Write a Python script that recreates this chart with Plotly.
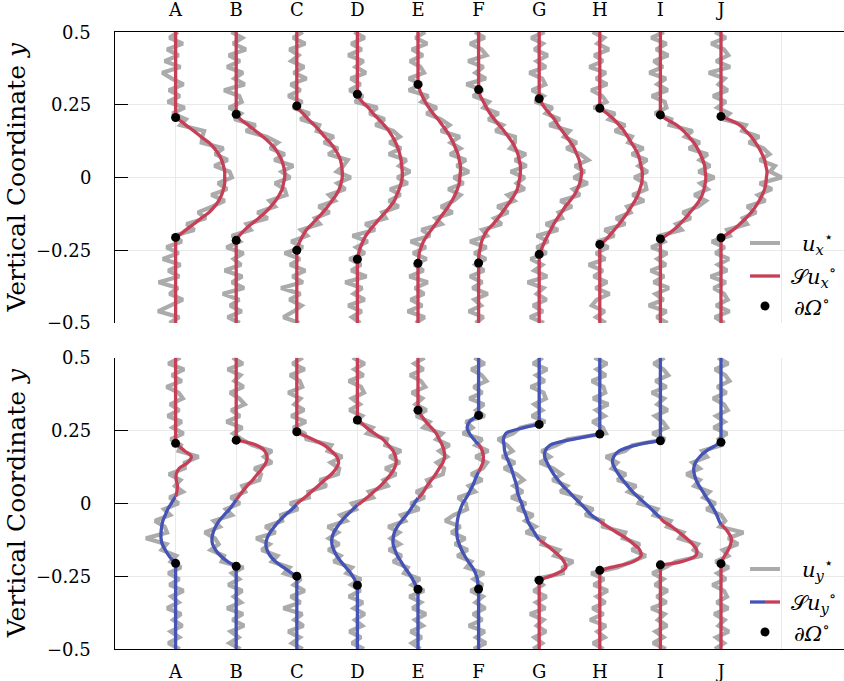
import plotly.graph_objects as go

# ---------------- data ----------------
LABELS = ["A", "B", "C", "D", "E", "F", "G", "H", "I", "J"]
POSITIONS = [1, 2, 3, 4, 5, 6, 7, 8, 9, 10]
Y_TICKS = [-0.5, -0.25, 0, 0.25, 0.5]
Y_TICK_TEXT = ["\u22120.5", "\u22120.25", "0", "0.25", "0.5"]
# sampling grid of the measured profiles (top to bottom)
Y_GRID = [round(0.5 - 0.02 * i, 2) for i in range(51)]

# boundary points dOmega (upper / lower) of every profile
BOUND_TOP = [0.206, 0.217, 0.246, 0.286, 0.320, 0.302, 0.271, 0.238, 0.215, 0.210]
BOUND_BOTTOM = [-0.206, -0.216, -0.250, -0.281, -0.295, -0.294, -0.264, -0.230, -0.211, -0.207]

# noisy measured u_x* on Y_GRID
UX_NOISY = [
    [0.04,-0.10,0.12,-0.14,0.05,-0.18,0.08,-0.22,-0.06,0.13,-0.11,0.07,-0.13,0.15,-0.05,0.17,0.08,0.47,0.44,0.43,0.79,0.65,0.86,0.64,0.89,0.93,0.70,0.85,0.59,0.81,0.60,0.37,0.50,0.18,0.31,-0.03,0.10,-0.15,0.05,-0.21,0.08,-0.12,0.06,-0.28,0.04,-0.10,0.12,-0.08,-0.29,0.06,-0.10],
    [-0.08,0.10,-0.05,0.16,-0.12,0.06,-0.15,0.11,-0.03,0.14,-0.20,0.05,0.09,-0.12,0.08,-0.03,0.32,0.16,0.50,0.69,0.56,0.80,0.63,0.94,0.75,0.89,0.64,0.80,0.83,0.55,0.64,0.35,0.52,0.17,0.24,-0.07,0.06,-0.16,0.12,-0.04,0.08,-0.19,0.10,-0.07,0.13,-0.22,0.05,-0.10,0.09,-0.14,0.06],
    [0.10,-0.06,0.14,-0.12,0.03,-0.09,0.12,-0.05,0.16,-0.10,0.06,-0.14,0.09,-0.06,0.21,0.06,0.37,0.33,0.61,0.45,0.68,0.52,0.84,0.77,0.66,0.89,0.67,0.80,0.53,0.63,0.36,0.54,0.30,0.38,0.07,0.17,-0.09,0.10,-0.20,0.05,-0.11,0.14,-0.07,0.10,-0.26,0.06,-0.12,0.08,-0.05,-0.22,0.04],
    [-0.05,0.12,-0.10,0.07,-0.15,0.10,-0.03,0.14,-0.11,0.05,-0.13,0.09,-0.04,0.33,0.20,0.45,0.30,0.59,0.70,0.53,0.72,0.52,0.81,0.69,0.87,0.66,0.83,0.54,0.71,0.52,0.68,0.41,0.47,0.13,0.29,-0.08,0.17,-0.02,0.12,-0.13,0.06,-0.10,0.15,-0.20,0.08,-0.06,0.12,-0.15,0.07,-0.09,0.05],
    [0.12,-0.04,0.15,-0.10,0.08,-0.13,0.04,0.10,-0.15,0.06,-0.15,0.17,0.06,0.31,0.14,0.38,0.52,0.38,0.69,0.54,0.70,0.53,0.79,0.64,0.84,0.59,0.75,0.50,0.70,0.59,0.38,0.57,0.29,0.39,0.06,0.20,-0.12,0.13,-0.08,0.14,-0.06,0.09,-0.14,0.16,-0.05,0.10,-0.12,0.07,-0.17,0.11,-0.04],
    [-0.06,0.10,-0.14,0.05,0.13,-0.17,0.08,-0.05,0.12,-0.20,0.07,-0.09,0.17,0.08,0.33,0.16,0.40,0.28,0.60,0.60,0.52,0.78,0.60,0.79,0.53,0.76,0.63,0.76,0.48,0.59,0.31,0.49,0.26,0.38,0.06,0.14,-0.14,0.13,-0.07,0.12,-0.05,0.09,-0.14,0.06,-0.10,0.15,-0.07,0.04,-0.16,0.08,-0.05],
    [0.09,-0.13,0.06,-0.08,0.14,-0.04,0.11,-0.16,0.05,0.10,-0.12,0.07,-0.07,0.22,0.11,0.34,0.17,0.50,0.41,0.62,0.45,0.68,0.81,0.59,0.75,0.57,0.80,0.56,0.67,0.35,0.54,0.32,0.38,0.11,0.31,-0.04,0.15,-0.04,0.12,-0.14,0.05,-0.08,0.13,-0.19,0.07,-0.04,0.12,-0.10,0.06,-0.15,0.08],
    [-0.12,0.07,-0.04,0.15,-0.09,0.05,-0.17,0.10,-0.06,0.12,-0.14,0.04,0.11,-0.10,0.25,0.15,0.42,0.25,0.53,0.47,0.72,0.53,0.78,0.64,0.79,0.57,0.75,0.77,0.54,0.73,0.45,0.51,0.27,0.42,0.08,0.24,-0.04,0.14,-0.06,0.09,-0.18,0.05,-0.10,0.12,-0.07,0.16,-0.05,-0.13,0.08,-0.06,0.10],
    [0.06,-0.15,0.10,-0.07,0.13,-0.11,0.04,-0.18,0.09,-0.05,0.12,-0.14,0.07,0.10,-0.09,0.18,0.15,0.53,0.41,0.65,0.47,0.78,0.65,0.82,0.63,0.89,0.66,0.78,0.56,0.75,0.62,0.37,0.50,0.26,0.35,-0.01,0.07,-0.15,0.11,-0.05,0.09,-0.16,0.06,-0.11,0.14,-0.08,0.05,-0.19,0.10,-0.06,0.12],
    [-0.10,0.08,-0.16,0.05,0.12,-0.08,0.15,-0.20,0.06,-0.04,0.11,-0.13,0.08,-0.06,0.14,0.03,0.41,0.35,0.63,0.46,0.70,0.80,0.64,0.89,0.81,1.00,0.64,0.84,0.61,0.73,0.43,0.58,0.36,0.43,0.10,0.15,-0.15,0.06,-0.09,0.13,-0.05,0.10,-0.17,0.08,-0.12,0.05,0.11,-0.08,0.14,-0.10,0.06],
]

# smoothed S u_x on the grid points strictly between the two boundary points
UX_SMOOTH = [
    [0.05,0.17,0.30,0.42,0.55,0.64,0.71,0.76,0.79,0.81,0.81,0.81,0.79,0.76,0.71,0.64,0.55,0.42,0.30,0.17,0.05],
    [0.07,0.20,0.32,0.44,0.55,0.64,0.70,0.75,0.78,0.80,0.80,0.78,0.76,0.71,0.65,0.57,0.48,0.37,0.25,0.14,0.05],
    [0.01,0.10,0.19,0.29,0.38,0.46,0.55,0.62,0.68,0.72,0.74,0.75,0.75,0.73,0.70,0.65,0.58,0.51,0.43,0.34,0.25,0.16,0.10,0.05,0.01],
    [0.01,0.08,0.18,0.26,0.35,0.44,0.52,0.58,0.63,0.67,0.70,0.72,0.73,0.74,0.74,0.72,0.69,0.65,0.61,0.54,0.46,0.37,0.29,0.21,0.14,0.09,0.05,0.02,0.00],
    [0.03,0.07,0.12,0.18,0.25,0.33,0.40,0.47,0.53,0.58,0.62,0.66,0.68,0.70,0.70,0.69,0.68,0.65,0.61,0.56,0.50,0.43,0.36,0.29,0.22,0.15,0.09,0.05,0.02,0.01],
    [0.00,0.03,0.08,0.13,0.19,0.26,0.34,0.42,0.49,0.56,0.61,0.65,0.67,0.69,0.69,0.68,0.66,0.64,0.59,0.53,0.46,0.39,0.32,0.24,0.15,0.09,0.05,0.03,0.01,0.00],
    [0.03,0.09,0.17,0.25,0.31,0.38,0.45,0.52,0.58,0.62,0.66,0.68,0.70,0.69,0.67,0.63,0.58,0.51,0.43,0.37,0.30,0.24,0.19,0.14,0.09,0.05,0.01],
    [0.12,0.23,0.32,0.40,0.46,0.52,0.58,0.63,0.66,0.68,0.70,0.70,0.69,0.66,0.63,0.58,0.52,0.46,0.39,0.32,0.24,0.16,0.07],
    [0.10,0.27,0.38,0.47,0.55,0.61,0.66,0.70,0.73,0.74,0.75,0.74,0.72,0.69,0.64,0.57,0.49,0.41,0.32,0.22,0.09],
    [0.12,0.31,0.41,0.50,0.57,0.63,0.68,0.72,0.74,0.76,0.75,0.74,0.72,0.68,0.63,0.57,0.50,0.41,0.31,0.20,0.06],
]

# noisy measured u_y* on Y_GRID
UY_NOISY = [
    [0.08,-0.12,0.14,-0.06,0.10,-0.15,0.05,0.12,-0.09,0.06,-0.13,0.10,-0.05,0.13,-0.08,0.09,0.05,0.38,0.15,0.15,-0.11,0.08,-0.01,0.12,-0.10,0.05,-0.19,-0.09,-0.34,-0.18,-0.14,-0.49,-0.15,-0.23,0.01,-0.08,0.09,-0.12,0.06,-0.10,0.13,-0.07,0.05,-0.14,0.09,-0.04,0.11,-0.08,0.06,-0.12,0.07],
    [-0.06,0.11,-0.14,0.07,-0.03,0.12,-0.10,0.05,0.14,-0.08,0.06,-0.16,0.10,-0.05,0.09,0.26,0.59,0.46,0.59,0.30,0.41,0.38,0.10,0.15,-0.09,0.06,-0.17,-0.07,-0.37,-0.27,-0.52,-0.35,-0.29,-0.42,-0.20,-0.24,0.12,-0.07,0.05,-0.13,0.10,-0.04,0.08,-0.15,0.11,-0.06,0.13,-0.09,0.04,-0.11,0.07],
    [0.10,-0.07,0.13,-0.11,0.05,0.09,-0.14,0.06,-0.04,0.12,-0.09,0.15,-0.06,0.13,0.16,0.57,0.51,0.75,0.56,0.70,0.68,0.38,0.49,0.19,0.20,-0.11,0.02,-0.26,-0.24,-0.52,-0.35,-0.67,-0.45,-0.58,-0.32,-0.41,-0.12,-0.21,0.07,-0.05,0.13,-0.10,0.06,-0.22,0.09,-0.04,0.11,-0.14,0.05,-0.08,0.10],
    [-0.08,0.12,-0.05,0.10,-0.14,0.06,0.11,-0.09,0.04,-0.13,0.08,-0.02,0.25,0.16,0.49,0.46,0.72,0.53,0.70,0.46,0.64,0.43,0.50,0.19,0.26,-0.09,-0.02,-0.28,-0.18,-0.49,-0.32,-0.47,-0.30,-0.48,-0.28,-0.39,-0.09,-0.18,0.06,-0.10,0.05,-0.14,0.09,-0.06,0.12,-0.04,0.08,-0.13,0.06,-0.09,0.11],
    [0.11,-0.06,0.09,-0.13,0.05,0.12,-0.10,0.07,-0.04,0.14,-0.03,0.19,0.09,0.40,0.30,0.52,0.35,0.48,0.31,0.43,0.41,0.15,0.20,-0.03,0.11,-0.12,0.02,-0.28,-0.21,-0.49,-0.31,-0.45,-0.30,-0.48,-0.27,-0.41,-0.17,-0.23,0.03,-0.10,0.10,-0.14,0.05,-0.09,0.13,-0.05,0.08,-0.12,0.06,-0.10,0.04],
    [-0.07,0.10,-0.12,0.05,0.13,-0.08,0.06,-0.15,0.09,-0.04,0.10,-0.21,-0.10,-0.26,0.06,-0.05,0.16,-0.05,0.14,0.07,-0.12,0.06,-0.16,-0.06,-0.34,-0.21,-0.19,-0.41,-0.55,-0.30,-0.45,-0.22,-0.39,-0.18,-0.35,-0.12,-0.20,0.09,-0.08,0.07,-0.13,0.07,-0.05,0.11,-0.09,0.06,-0.16,0.10,-0.04,0.12,-0.08],
    [0.06,-0.10,0.13,-0.05,0.09,-0.14,0.07,0.11,-0.08,0.05,-0.12,0.10,-0.31,-0.43,-0.68,-0.53,-0.44,-0.61,-0.40,-0.58,-0.37,-0.26,-0.42,-0.27,-0.46,-0.22,-0.36,-0.10,-0.23,-0.06,-0.22,0.08,0.04,0.33,0.25,0.56,0.39,0.39,-0.07,0.06,-0.09,0.12,-0.05,0.10,-0.15,0.07,-0.04,0.11,-0.08,0.05,-0.10],
    [-0.09,0.12,-0.05,0.10,-0.13,0.06,0.09,-0.11,0.14,-0.06,0.08,-0.12,0.05,0.10,-0.53,-0.71,-0.96,-0.82,-0.99,-0.77,-0.63,-0.78,-0.54,-0.65,-0.32,-0.37,-0.11,-0.24,0.05,0.05,0.42,0.38,0.66,0.53,0.76,0.50,0.29,-0.14,0.07,-0.10,0.13,-0.05,0.09,-0.12,0.06,-0.16,0.10,-0.04,0.08,-0.11,0.06],
    [0.07,-0.11,0.05,0.13,-0.08,0.10,-0.14,0.06,-0.05,0.12,-0.09,0.04,0.11,-0.13,0.08,-0.46,-0.58,-0.90,-0.71,-0.80,-0.57,-0.71,-0.40,-0.53,-0.31,-0.36,-0.05,-0.11,0.17,0.11,0.38,0.31,0.62,0.55,0.69,0.25,0.08,-0.13,0.05,-0.09,0.12,-0.06,0.10,-0.15,0.07,-0.04,0.11,-0.08,0.05,-0.12,0.09],
    [-0.05,0.12,-0.10,0.07,0.14,-0.06,0.09,-0.13,0.05,0.11,-0.08,0.06,-0.12,0.10,-0.04,0.01,-0.31,-0.23,-0.47,-0.35,-0.57,-0.35,-0.44,-0.19,-0.29,-0.09,-0.24,0.00,0.07,-0.02,0.37,0.12,0.28,0.03,0.12,-0.09,0.13,-0.06,0.08,-0.14,0.05,0.10,-0.07,0.12,-0.11,0.06,-0.04,0.13,-0.08,0.05,-0.10],
]

# smoothed S u_y on the grid points strictly between the two boundary points
UY_SMOOTH = [
    [0.03,0.15,0.26,0.20,0.06,0.01,0.01,0.03,0.02,-0.01,-0.07,-0.13,-0.17,-0.21,-0.23,-0.24,-0.24,-0.22,-0.17,-0.11,-0.03],
    [0.33,0.47,0.51,0.49,0.43,0.35,0.27,0.18,0.10,0.03,-0.04,-0.11,-0.20,-0.28,-0.34,-0.38,-0.40,-0.39,-0.34,-0.26,-0.14],
    [0.05,0.26,0.45,0.57,0.66,0.69,0.65,0.57,0.46,0.35,0.24,0.13,0.01,-0.08,-0.19,-0.29,-0.37,-0.44,-0.49,-0.51,-0.49,-0.44,-0.35,-0.22,-0.08],
    [0.04,0.15,0.28,0.42,0.51,0.59,0.63,0.64,0.61,0.55,0.47,0.38,0.27,0.16,0.04,-0.07,-0.17,-0.26,-0.33,-0.39,-0.42,-0.42,-0.39,-0.34,-0.27,-0.19,-0.11,-0.05,-0.01],
    [0.06,0.13,0.22,0.30,0.35,0.40,0.43,0.44,0.41,0.35,0.29,0.22,0.15,0.09,0.01,-0.06,-0.12,-0.19,-0.27,-0.34,-0.39,-0.41,-0.41,-0.38,-0.34,-0.28,-0.22,-0.15,-0.09,-0.04],
    [-0.02,-0.15,-0.19,-0.15,-0.08,0.01,0.06,0.08,0.07,0.03,-0.02,-0.06,-0.10,-0.15,-0.20,-0.26,-0.30,-0.33,-0.35,-0.36,-0.36,-0.35,-0.32,-0.28,-0.23,-0.17,-0.10,-0.05,-0.02,-0.01],
    [-0.25,-0.55,-0.59,-0.58,-0.57,-0.54,-0.50,-0.46,-0.43,-0.40,-0.37,-0.36,-0.33,-0.29,-0.26,-0.22,-0.19,-0.14,-0.08,-0.02,0.10,0.22,0.33,0.41,0.44,0.30,0.05],
    [-0.45,-0.82,-0.90,-0.91,-0.87,-0.82,-0.76,-0.69,-0.61,-0.51,-0.42,-0.32,-0.23,-0.14,-0.01,0.13,0.28,0.44,0.56,0.66,0.68,0.55,0.18],
    [-0.40,-0.68,-0.77,-0.79,-0.75,-0.69,-0.62,-0.54,-0.46,-0.36,-0.25,-0.15,-0.05,0.04,0.19,0.31,0.43,0.53,0.60,0.58,0.35],
    [-0.08,-0.24,-0.35,-0.42,-0.45,-0.44,-0.41,-0.36,-0.30,-0.24,-0.18,-0.12,-0.07,-0.03,0.04,0.12,0.17,0.16,0.12,0.06,0.01],
]
# heights where S u_y changes sign
UY_CROSSINGS = [[0.022], [0.012], [-0.004], [-0.005], [0.019], [0.202, 0.107],
                [-0.125], [-0.062], [-0.050], [-0.073]]

# ---------------- style ----------------
GRAY = "#ababab"
RED = "#c73e56"
BLUE = "#4453b5"
GRID = "#e9e9e9"
FONT = "DejaVu Serif"

fig = go.Figure()


def inner_grid(k):
    return [y for y in Y_GRID if BOUND_BOTTOM[k] < y < BOUND_TOP[k]]


def add_line(xs, ys, color, width, axes, shape="linear"):
    fig.add_trace(go.Scatter(x=xs, y=ys, mode="lines", xaxis=axes[0], yaxis=axes[1],
                             line=dict(color=color, width=width, shape=shape, smoothing=1.0),
                             hoverinfo="skip", showlegend=False))


TOP = ("x", "y")
BOT = ("x2", "y2")

# gray noisy profiles
for k, p in enumerate(POSITIONS):
    add_line([p + v for v in UX_NOISY[k]], Y_GRID, GRAY, 4.2, TOP)
    add_line([p + v for v in UY_NOISY[k]], Y_GRID, GRAY, 4.2, BOT)

# smoothed u_x (top)
for k, p in enumerate(POSITIONS):
    yt, yb = BOUND_TOP[k], BOUND_BOTTOM[k]
    ys = inner_grid(k)
    assert len(ys) == len(UX_SMOOTH[k]), ("ux", k)
    add_line([p, p], [0.5, yt], RED, 3.3, TOP)
    add_line([p, p], [yb, -0.5], RED, 3.3, TOP)
    add_line([p] + [p + v for v in UX_SMOOTH[k]] + [p], [yt] + ys + [yb], RED, 3.3, TOP, "spline")

# smoothed u_y (bottom), coloured by sign
for k, p in enumerate(POSITIONS):
    yt, yb = BOUND_TOP[k], BOUND_BOTTOM[k]
    ys = inner_grid(k)
    assert len(ys) == len(UY_SMOOTH[k]), ("uy", k)
    pts = [(yt, 0.0)] + list(zip(ys, UY_SMOOTH[k])) + [(c, 0.0) for c in UY_CROSSINGS[k]] + [(yb, 0.0)]
    pts.sort(key=lambda t: -t[0])
    segs, cur = [], [pts[0]]
    for q in pts[1:]:
        cur.append(q)
        if q[0] in UY_CROSSINGS[k]:
            segs.append(cur)
            cur = [q]
    segs.append(cur)
    colors = [RED if sum(v for _, v in s) > 0 else BLUE for s in segs]
    add_line([p, p], [0.5, yt], colors[0], 3.3, BOT)
    add_line([p, p], [yb, -0.5], colors[-1], 3.3, BOT)
    for s, c in zip(segs, colors):
        add_line([p + v for _, v in s], [y for y, _ in s], c, 3.3, BOT, "spline")

# boundary points
for axes in (TOP, BOT):
    fig.add_trace(go.Scatter(x=POSITIONS + POSITIONS, y=BOUND_TOP + BOUND_BOTTOM, mode="markers",
                             xaxis=axes[0], yaxis=axes[1], marker=dict(color="black", size=9),
                             hoverinfo="skip", showlegend=False))

# ---------------- axes ----------------
xcommon = dict(range=[0, 12.03], tickvals=POSITIONS + [11], ticktext=LABELS + [" "],
               showline=True, linecolor="black", linewidth=1.3, showgrid=True,
               gridcolor=GRID, gridwidth=1, ticks="", zeroline=False, automargin=False,
               tickfont=dict(family=FONT, size=18, color="black"))
ycommon = dict(range=[-0.5, 0.5], tickvals=Y_TICKS, ticktext=Y_TICK_TEXT, ticks="inside",
               ticklen=13, tickwidth=1.3, tickcolor="black", showline=True, linecolor="black",
               linewidth=1.3, showgrid=True, gridcolor=GRID, gridwidth=1, zeroline=False,
               automargin=False, showticklabels=False)

TOP_DOM = [0.5284, 1.0]
BOT_DOM = [0.0, 0.4721]

fig.update_layout(
    width=844, height=681,
    margin=dict(l=115, r=0, t=32, b=32, autoexpand=False),
    plot_bgcolor="white", paper_bgcolor="white",
    showlegend=False,
    font=dict(family=FONT, size=18, color="black"),
    xaxis=dict(domain=[0, 1], anchor="y", side="top", ticklabelstandoff=8, **xcommon),
    yaxis=dict(domain=TOP_DOM, anchor="x", **ycommon),
    xaxis2=dict(domain=[0, 1], anchor="y2", side="bottom", ticklabelstandoff=6, **xcommon),
    yaxis2=dict(domain=BOT_DOM, anchor="x2", **ycommon),
)

PX = lambda px: (px - 115) / 729.0
PY = lambda py: (649 - py) / 617.0

# y tick labels, right-aligned left of the axis
for yref in ("y", "y2"):
    for v, t in zip(Y_TICKS, Y_TICK_TEXT):
        fig.add_annotation(text=t, xref="paper", yref=yref, x=PX(93), y=v,
                           xanchor="right", yanchor="middle", showarrow=False,
                           font=dict(family=FONT, size=18, color="black"))

# y titles
for dom in (TOP_DOM, BOT_DOM):
    fig.add_annotation(text="Vertical Coordinate <i>y</i>", xref="paper", yref="paper",
                       x=PX(16), y=(dom[0] + dom[1]) / 2, xanchor="center", yanchor="middle",
                       textangle=-90, showarrow=False, font=dict(family=FONT, size=25, color="black"))


# legends (drawn in paper coordinates)
def legend(base, comp, split):
    gy, ry, dy = base - 80, base - 47, base - 17
    fig.add_shape(type="line", xref="paper", yref="paper", x0=PX(750), x1=PX(780), y0=PY(gy), y1=PY(gy),
                  line=dict(color=GRAY, width=4))
    if split:
        fig.add_shape(type="line", xref="paper", yref="paper", x0=PX(750), x1=PX(765), y0=PY(ry), y1=PY(ry),
                      line=dict(color=BLUE, width=3.3))
        fig.add_shape(type="line", xref="paper", yref="paper", x0=PX(765), x1=PX(780), y0=PY(ry), y1=PY(ry),
                      line=dict(color=RED, width=3.3))
    else:
        fig.add_shape(type="line", xref="paper", yref="paper", x0=PX(750), x1=PX(780), y0=PY(ry), y1=PY(ry),
                      line=dict(color=RED, width=3.3))
    fig.add_shape(type="circle", xref="paper", yref="paper", xsizemode="pixel", ysizemode="pixel",
                  xanchor=PX(765), yanchor=PY(dy), x0=-4.5, x1=4.5, y0=-4.5, y1=4.5,
                  fillcolor="black", line=dict(color="black", width=0))
    items = [("<i>u</i><sub><i>%s</i></sub><sup>\u22c6</sup>" % comp, gy, 800),
             ("\U0001D4AE<i>u</i><sub><i>%s</i></sub><sup>\u2218</sup>" % comp, ry, 789),
             ("\u2202<i>\u03a9</i><sup>\u2218</sup>", dy, 792)]
    for t, yy, xx in items:
        fig.add_annotation(text=t, xref="paper", yref="paper", x=PX(xx), y=PY(yy),
                           xanchor="left", yanchor="middle", showarrow=False,
                           font=dict(family=FONT, size=21, color="black"))


legend(323, "x", False)
legend(649, "y", True)

fig.write_html("out.html", config={"displayModeBar": False},
               post_script="document.body.style.margin='0px';")
